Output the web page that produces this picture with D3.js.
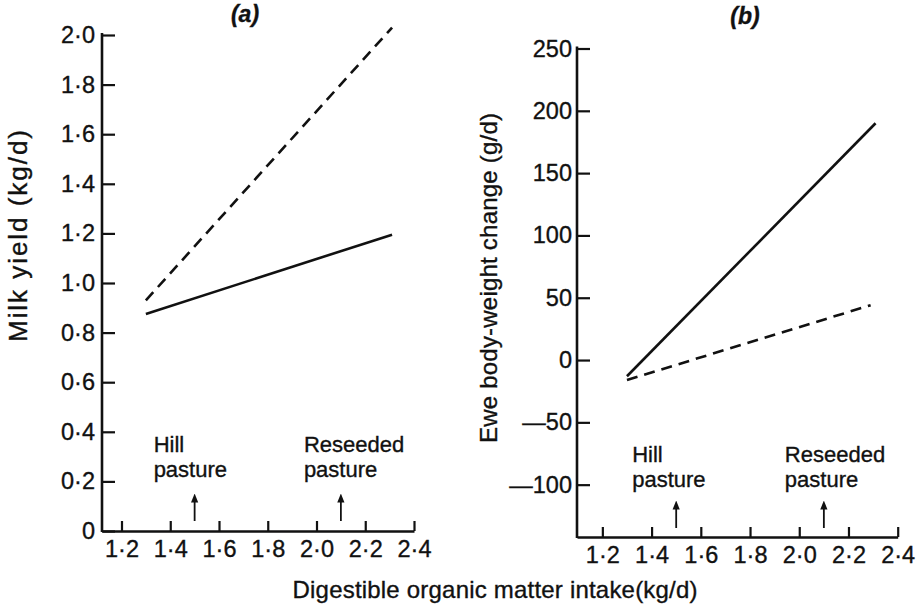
<!DOCTYPE html>
<html>
<head>
<meta charset="utf-8">
<script src="https://cdn.jsdelivr.net/npm/d3@7"></script>
<style>
  html, body { margin: 0; padding: 0; background: #fff; }
  svg { display: block; }
  text { font-family: "Liberation Sans", Arial, sans-serif; fill: #111; stroke: #111; stroke-width: 0.35px; }
</style>
</head>
<body>
<svg id="chart" width="919" height="611"></svg>
<script>
// ---- data ----
const xTicks = [1.2, 1.4, 1.6, 1.8, 2.0, 2.2, 2.4];
const xTickLabels = ["1·2", "1·4", "1·6", "1·8", "2·0", "2·2", "2·4"];

const milkTicks = [0, 0.2, 0.4, 0.6, 0.8, 1.0, 1.2, 1.4, 1.6, 1.8, 2.0];
const milkTickLabels = ["0", "0·2", "0·4", "0·6", "0·8", "1·0", "1·2", "1·4", "1·6", "1·8", "2·0"];

const weightTicks = [-100, -50, 0, 50, 100, 150, 200, 250];
const weightTickLabels = ["—100", "—50", "0", "50", "100", "150", "200", "250"];

// panel (a) milk yield
const milkIntake = [1.3, 2.31];
const milkDashed = [0.93, 2.03];
const milkSolid = [0.875, 1.195];

// panel (b) ewe body-weight change
const weightIntakeSolid = [1.3, 2.31];
const weightSolid = [-13, 190];
const weightIntakeDashed = [1.3, 2.29];
const weightDashed = [-16, 44];

const pastureX = [1.5, 2.1];
const pastureNames = ["Hill", "Reseeded"];
const pastureWord = "pasture";

const xTitle = "Digestible organic matter intake(kg/d)";

// ---- drawing ----
const svg = d3.select("#chart");
const FONT = 23.5;

svg.append("defs").append("marker")
  .attr("id", "arrow").attr("viewBox", "0 0 10 10")
  .attr("refX", 5).attr("refY", 5)
  .attr("markerWidth", 5).attr("markerHeight", 7)
  .attr("orient", "auto")
  .append("path").attr("d", "M0,1 L10,5 L0,9 Z").attr("fill", "#111");

function panel(cfg) {
  const x = d3.scaleLinear().domain(cfg.xDomain).range(cfg.xRange);
  const y = d3.scaleLinear().domain(cfg.yDomain).range(cfg.yRange);
  const g = svg.append("g");

  // y axis
  const ya = g.append("g").attr("transform", `translate(${cfg.xRange[0]},0)`)
    .call(d3.axisLeft(y).tickValues(cfg.yTicks)
      .tickFormat((d, i) => cfg.yLabels[i])
      .tickSize(-13).tickSizeOuter(0).tickPadding(cfg.yPad));
  // x axis
  const xa = g.append("g").attr("transform", `translate(0,${cfg.yRange[0]})`)
    .call(d3.axisBottom(x).tickValues(xTicks)
      .tickFormat((d, i) => xTickLabels[i])
      .tickSize(-10).tickSizeOuter(0).tickPadding(9));
  [ya, xa].forEach(a => {
    a.attr("font-family", null).attr("font-size", null);
    a.select(".domain").attr("stroke", "#111").attr("stroke-width", 2.6);
    a.selectAll(".tick line").attr("stroke", "#111").attr("stroke-width", 2.2);
    a.selectAll(".tick text").attr("font-size", FONT).attr("fill", "#111");
  });
  ya.select(".domain").attr("d", `M0,${cfg.yRange[0] + 1}V${cfg.yRange[1] - 2}`);

  // lines
  const line = d3.line().x(d => x(d[0])).y(d => y(d[1]));
  cfg.series.forEach(s => {
    g.append("path")
      .attr("d", line(d3.zip(s.x, s.y)))
      .attr("fill", "none").attr("stroke", "#111")
      .attr("stroke-width", 2.6)
      .attr("stroke-dasharray", s.dashed ? "11,7" : null);
  });

  // pasture annotations
  pastureX.forEach((px, i) => {
    const lx = x(px) + cfg.labelDx[i];
    g.append("text").attr("x", lx).attr("y", cfg.labelY)
      .attr("font-size", 22).text(pastureNames[i]);
    g.append("text").attr("x", lx).attr("y", cfg.labelY + 25)
      .attr("font-size", 22).text(pastureWord);
    g.append("line")
      .attr("x1", x(px)).attr("x2", x(px))
      .attr("y1", cfg.arrowY[0]).attr("y2", cfg.arrowY[1])
      .attr("stroke", "#111").attr("stroke-width", 1.8)
      .attr("marker-end", "url(#arrow)");
  });

  // panel title
  g.append("text").attr("x", cfg.title[1]).attr("y", cfg.title[2])
    .attr("text-anchor", "middle").attr("font-size", 23)
    .attr("font-style", "italic").attr("font-weight", "bold")
    .text(cfg.title[0]);

  // y title
  g.append("text")
    .attr("transform", `translate(${cfg.yTitle[1]},${cfg.yTitle[2]}) rotate(-90)`)
    .attr("text-anchor", "middle").attr("dominant-baseline", "central")
    .attr("font-size", cfg.yTitle[3])
    .attr("textLength", cfg.yTitle[4]).attr("lengthAdjust", "spacing")
    .text(cfg.yTitle[0]);
}

panel({
  xDomain: [1.12, 2.4], xRange: [102, 414],
  yDomain: [0, 2.0], yRange: [531, 35],
  yTicks: milkTicks, yLabels: milkTickLabels, yPad: 7,
  series: [
    { x: milkIntake, y: milkDashed, dashed: true },
    { x: milkIntake, y: milkSolid, dashed: false }
  ],
  labelDx: [-41, -37], labelY: 452, arrowY: [521, 498],
  title: ["(a)", 245, 22],
  yTitle: ["Milk yield (kg/d)", 18, 236, 26, 212]
});

panel({
  xDomain: [1.097, 2.4], xRange: [577, 897.7],
  yDomain: [-142, 250], yRange: [537, 48.5],
  yTicks: weightTicks, yLabels: weightTickLabels, yPad: 5,
  series: [
    { x: weightIntakeSolid, y: weightSolid, dashed: false },
    { x: weightIntakeDashed, y: weightDashed, dashed: true }
  ],
  labelDx: [-44, -39], labelY: 462, arrowY: [528, 505],
  title: ["(b)", 745, 24],
  yTitle: ["Ewe body-weight change (g/d)", 488, 278, 24, 330]
});

svg.append("text").attr("x", 495).attr("y", 598)
  .attr("text-anchor", "middle").attr("font-size", 24)
  .attr("textLength", 405).attr("lengthAdjust", "spacing")
  .text(xTitle);
</script>
</body>
</html>
